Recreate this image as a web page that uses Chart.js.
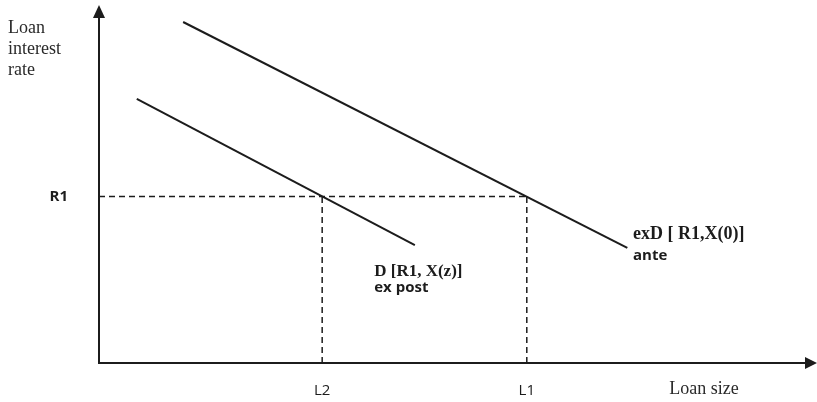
<!DOCTYPE html>
<html>
<head>
<meta charset="utf-8">
<script src="https://cdn.jsdelivr.net/npm/chart.js@4"></script>
<style>
  html, body { margin: 0; padding: 0; background: #ffffff; }
  #wrap { width: 817px; height: 402px; }
</style>
</head>
<body>
<div id="wrap"><canvas id="c" width="817" height="402"></canvas></div>
<script>
// ---- data (in abstract diagram units, 0..100 on both axes) ----
const anteCurve   = [{x: 11.8, y: 96.6}, {x: 74.1, y: 32.6}];   // exD [R1, X(0)]
const expostCurve = [{x: 5.3,  y: 74.8}, {x: 44.3, y: 33.4}];   // D [R1, X(z)]
const R1 = 47.2;
const L2 = 31.3;
const L1 = 60.0;
const xTickValues = [L2, L1];
const xTickLabels = ['L2', 'L1'];
const yTickValues = [R1];
const yTickLabels = ['R1'];
const xAxisTitle = 'Loan size';
const yAxisTitle = ['Loan', 'interest', 'rate'];
const curveLabels = [
  {x: 74.9, y: 36.5, text: 'exD [ R1,X(0)]', font: 'bold 18px "Liberation Serif", serif'},
  {x: 74.9, y: 30.4, text: 'ante',           font: 'bold 15px "Open Sans", sans-serif'},
  {x: 38.6, y: 26.0, text: 'D [R1, X(z)]',   font: 'bold 17px "Liberation Serif", serif'},
  {x: 38.6, y: 21.3, text: 'ex post',        font: 'bold 15px "Open Sans", sans-serif'}
];

const INK = '#1c1c1c';
const dash = [6, 4];

const annotations = {
  id: 'annotations',
  afterDraw(chart) {
    const ctx = chart.ctx;
    const xs = chart.scales.x, ys = chart.scales.y;
    const ca = chart.chartArea;
    ctx.save();
    ctx.fillStyle = INK;
    // arrowheads
    ctx.beginPath();
    ctx.moveTo(ca.left, 5);
    ctx.lineTo(ca.left - 6, 18);
    ctx.lineTo(ca.left + 6, 18);
    ctx.closePath();
    ctx.fill();
    ctx.beginPath();
    ctx.moveTo(817, ca.bottom);
    ctx.lineTo(805, ca.bottom - 6);
    ctx.lineTo(805, ca.bottom + 6);
    ctx.closePath();
    ctx.fill();
    // curve labels
    ctx.textAlign = 'left';
    ctx.textBaseline = 'middle';
    curveLabels.forEach(l => {
      ctx.font = l.font;
      ctx.fillText(l.text, xs.getPixelForValue(l.x), ys.getPixelForValue(l.y));
    });
    // axis titles
    ctx.fillStyle = '#2a2a2a';
    ctx.font = '18px "Liberation Serif", serif';
    ctx.textBaseline = 'alphabetic';
    yAxisTitle.forEach((t, i) => ctx.fillText(t, 8, 33 + i * 21));
    ctx.textAlign = 'center';
    ctx.textBaseline = 'middle';
    ctx.fillText(xAxisTitle, 704, 389);
    ctx.restore();
  }
};

new Chart(document.getElementById('c'), {
  type: 'line',
  data: {
    datasets: [
      {data: anteCurve, borderColor: INK, borderWidth: 2},
      {data: expostCurve, borderColor: INK, borderWidth: 2},
      {data: [{x: 0, y: R1}, {x: L1, y: R1}], borderColor: INK, borderWidth: 1.5, borderDash: dash},
      {data: [{x: L2, y: 0}, {x: L2, y: R1}], borderColor: INK, borderWidth: 1.5, borderDash: dash},
      {data: [{x: L1, y: 0}, {x: L1, y: R1}], borderColor: INK, borderWidth: 1.5, borderDash: dash}
    ]
  },
  options: {
    responsive: false,
    animation: false,
    events: [],
    layout: {padding: {top: 10, right: 5, left: 0, bottom: 0}},
    elements: {point: {radius: 0}, line: {tension: 0}},
    plugins: {legend: {display: false}, tooltip: {enabled: false}},
    scales: {
      x: {
        type: 'linear', min: 0, max: 100,
        grid: {display: true, drawOnChartArea: false, drawTicks: true, tickLength: 19, color: 'rgba(0,0,0,0)'},
        border: {display: true, color: INK, width: 2},
        afterBuildTicks: s => { s.ticks = xTickValues.map(v => ({value: v})); },
        afterFit: s => { s.height = 39; },
        ticks: {
          padding: 0,
          autoSkip: false,
          maxRotation: 0,
          color: INK,
          font: {family: '"Open Sans", sans-serif', size: 15},
          callback: (v) => xTickLabels[xTickValues.indexOf(v)]
        }
      },
      y: {
        type: 'linear', min: 0, max: 100,
        grid: {display: true, drawOnChartArea: false, drawTicks: true, tickLength: 31, color: 'rgba(0,0,0,0)'},
        border: {display: true, color: INK, width: 2},
        afterBuildTicks: s => { s.ticks = yTickValues.map(v => ({value: v})); },
        afterFit: s => { s.width = 99; },
        ticks: {
          padding: 0,
          color: INK,
          font: {family: '"Open Sans", sans-serif', size: 15, weight: 'bold'},
          callback: (v) => yTickLabels[yTickValues.indexOf(v)]
        }
      }
    }
  },
  plugins: [annotations]
});
</script>
</body>
</html>
